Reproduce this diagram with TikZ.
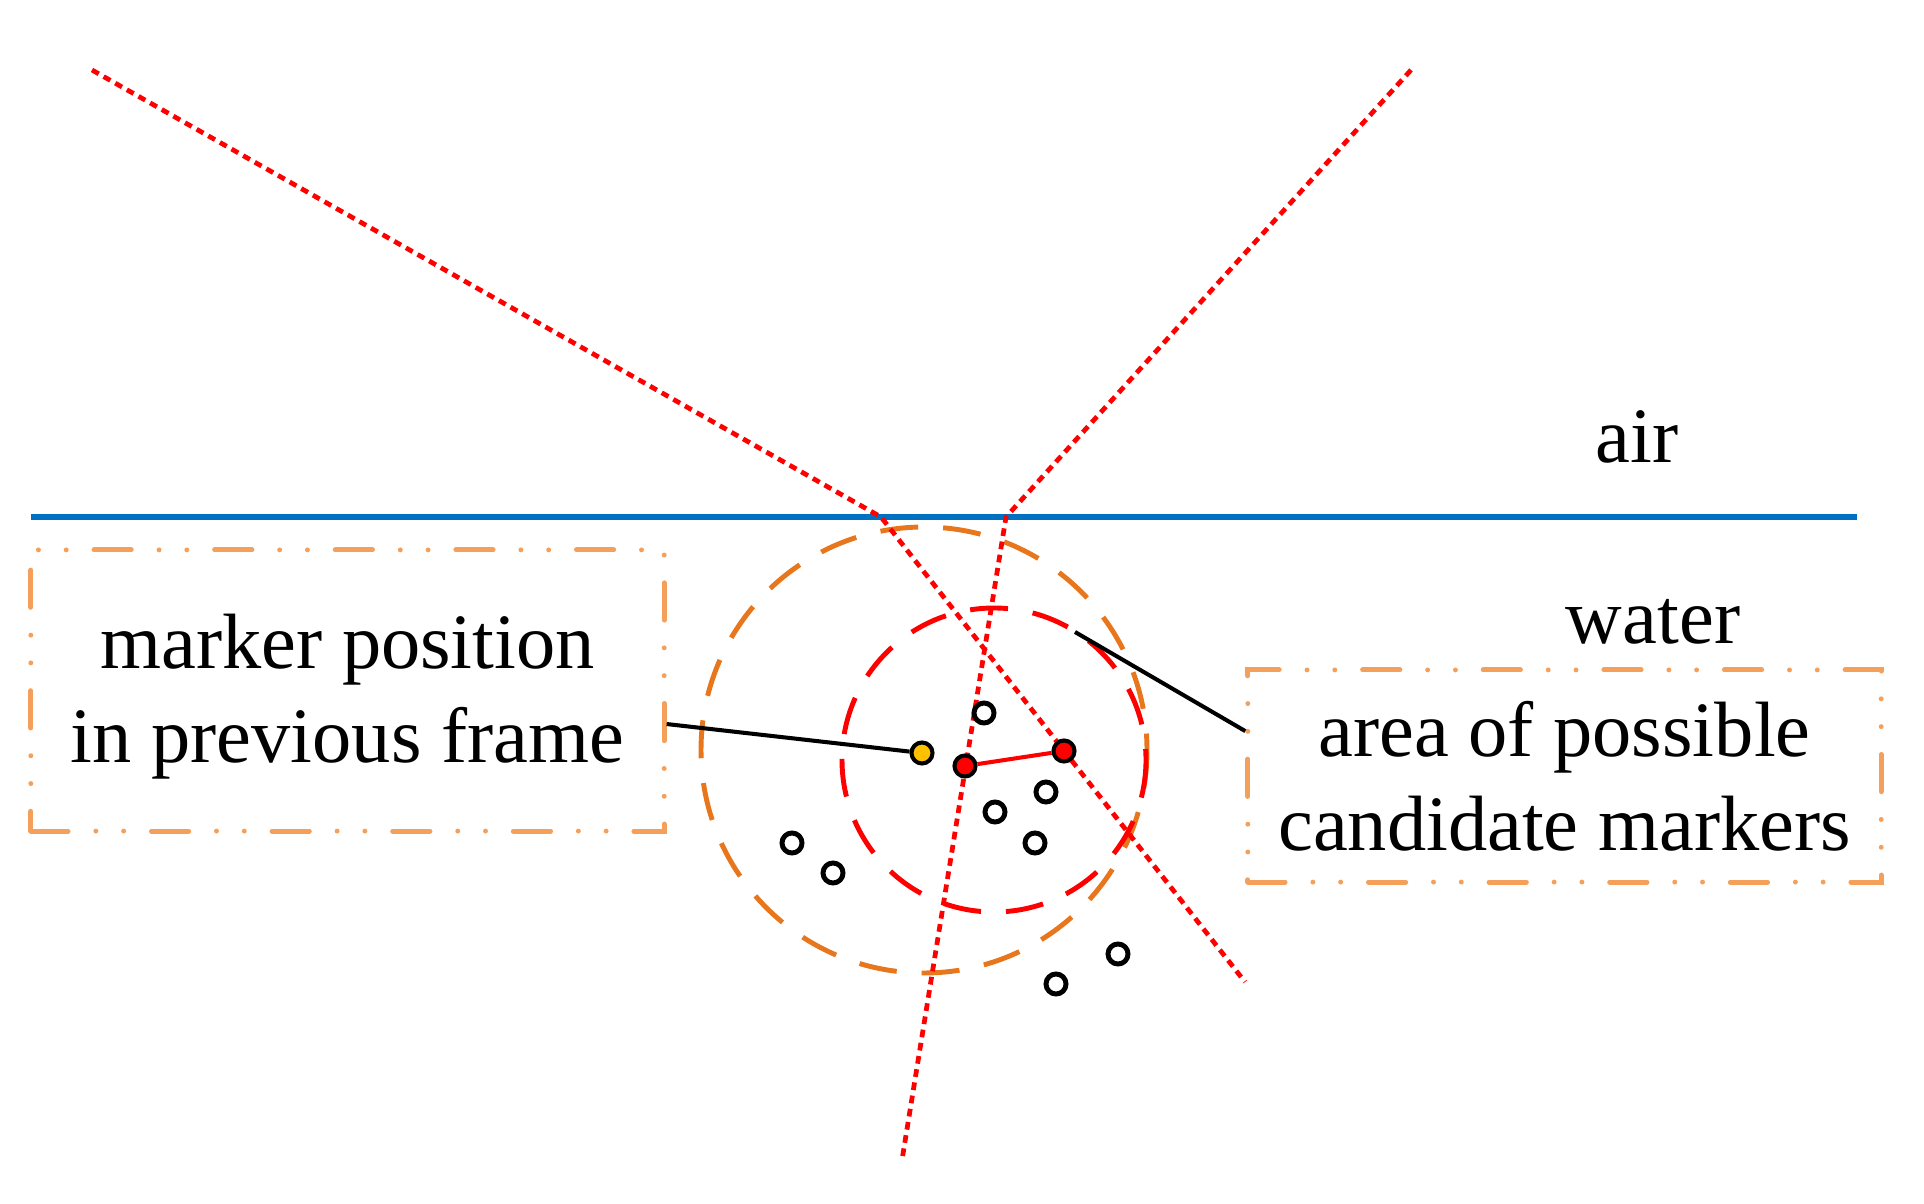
\documentclass[tikz,border=0pt]{standalone}
\usepackage{fontspec}
\setmainfont{Liberation Serif}
\usepackage{xcolor}
\definecolor{surfblue}{HTML}{0070C0}
\definecolor{ringorange}{HTML}{E8761C}
\definecolor{boxorange}{HTML}{F5A05A}
\definecolor{dotyellow}{HTML}{FFC000}

\begin{document}
\begin{tikzpicture}[x=0.01cm, y=-0.01cm,
  ray/.style={red, line width=1.35pt, dash pattern=on 2.2pt off 1.6pt},
  ring/.style={line width=1.4pt, dash pattern=on 10.8pt off 7.1pt},
  labelbox/.style={draw=boxorange, line width=1.4pt, line cap=round,
    dash pattern=on 10.6pt off 7.9pt on 0pt off 7.9pt on 0pt off 7.9pt,
    minimum width=6.33cm, align=center, inner sep=0pt,
    font=\fontsize{22.3}{26.7}\selectfont},
  marker/.style={circle, draw=black, line width=1.15pt, inner sep=0pt,
    minimum size=0.21cm},
  hollow/.style={circle, draw=black, line width=1.4pt, inner sep=0pt,
    minimum size=0.2cm, fill=white},
  leader/.style={black, line width=1.15pt},
  medium/.style={font=\fontsize{22.3}{26.7}\selectfont, anchor=base}]

\useasboundingbox (0,0) rectangle (1924,1204);

% water surface
\draw[surfblue, line width=1.7pt] (31,517) -- (1857,517);
\node[medium] (air) at (1637,463) {air};
\node[medium] (water) at (1653,644) {water};

% search areas around the previous marker
\draw[ring, ringorange] (924,750) circle[radius=223];
\draw[ring, red] (994,760) circle[radius=152];

% two camera rays, refracted at the surface
\coordinate (srcL) at (92,70);
\coordinate (hitL) at (881,517);
\coordinate (endL) at (1245,982);
\coordinate (srcR) at (1411,70);
\coordinate (hitR) at (1006,517);
\coordinate (endR) at (902,1160);
\draw[ray] (srcL) -- (hitL) -- (endL);
\draw[ray] (srcR) -- (hitR) -- (endR);

% labels
\node[labelbox, minimum height=2.81cm] (prevbox) at (347.5,690.5)
  {\rule{0pt}{19pt}marker position\\in previous frame};
\node[labelbox, minimum height=2.12cm] (areabox) at (1564.5,776)
  {area of possible\\candidate markers};

% candidate markers
\foreach \px/\py [count=\i] in {984/713, 1046/792, 995/812, 1035/843,
    792/843, 833/873, 1118/954, 1056/984}{
  \node[hollow] (cand\i) at (\px,\py) {};
}

% leaders
\node[marker, fill=dotyellow] (prev) at (922,753) {};
\coordinate (rim) at (1075,632);
\draw[leader] (prevbox.-6) -- (prev);
\draw[leader] (rim) -- (areabox.172);

% matched pair
\node[marker, fill=red] (matchA) at (965,766) {};
\node[marker, fill=red] (matchB) at (1064,751) {};
\draw[red, line width=1.15pt] (matchA) -- (matchB);

\end{tikzpicture}
\end{document}
